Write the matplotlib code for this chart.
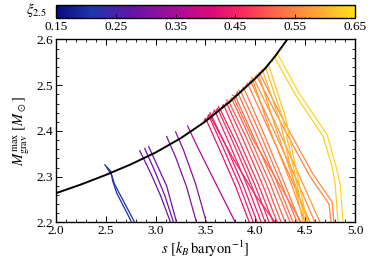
import numpy as np
import matplotlib
matplotlib.use("Agg")
import matplotlib.pyplot as plt
from matplotlib.colors import LinearSegmentedColormap, Normalize
from matplotlib.cm import ScalarMappable
from matplotlib.ticker import MultipleLocator

# black curve (max gravitational mass vs entropy)
curve_s = [2.0, 2.25, 2.5, 2.75, 3.0, 3.25, 3.5, 3.75, 4.0, 4.1, 4.2, 4.32]
curve_m = [2.264, 2.283, 2.304, 2.327, 2.353, 2.384, 2.421, 2.465, 2.515, 2.537, 2.564, 2.60]

# individual tracks, colored by xi_2.5
track_xi = [0.200, 0.205,
            0.28, 0.285, 0.29, 0.31, 0.32, 0.36,
            0.43, 0.44, 0.44, 0.45, 0.46, 0.46, 0.47, 0.48, 0.45,
            0.50, 0.51, 0.52, 0.52, 0.53, 0.54, 0.55, 0.56, 0.57, 0.55, 0.56,
            0.57, 0.58, 0.53,
            0.60, 0.61, 0.62,
            0.63, 0.64]
track_s = [
    [2.49, 2.55, 2.57, 2.61, 2.70, 2.76],
    [2.51, 2.56, 2.585, 2.64, 2.73, 2.79],
    [2.84, 2.95, 3.05, 3.15],
    [2.89, 2.99, 3.09, 3.18],
    [2.93, 2.99, 3.11, 3.21],
    [3.11, 3.20, 3.31, 3.41],
    [3.20, 3.28, 3.40, 3.51],
    [3.32, 3.42, 3.62, 3.80],
    [3.48, 3.50, 3.62, 3.80, 3.94],
    [3.51, 3.53, 3.66, 3.84, 3.98],
    [3.545, 3.56, 3.70, 3.88, 4.02],
    [3.57, 3.59, 3.74, 3.92, 4.06],
    [3.60, 3.62, 3.77, 3.96, 4.10],
    [3.63, 3.65, 3.81, 3.99, 4.14],
    [3.66, 3.68, 3.84, 4.03, 4.18],
    [3.69, 3.71, 3.88, 4.07, 4.22],
    [3.52, 3.54, 3.75, 4.00, 4.20],
    [3.71, 3.74, 3.90, 4.10, 4.26],
    [3.74, 3.76, 3.93, 4.14, 4.30],
    [3.77, 3.80, 3.97, 4.18, 4.35],
    [3.80, 3.82, 4.00, 4.21, 4.38],
    [3.83, 3.86, 4.04, 4.25, 4.42],
    [3.86, 3.88, 4.07, 4.28, 4.45],
    [3.90, 3.92, 4.12, 4.36, 4.55],
    [3.93, 3.95, 4.16, 4.41, 4.60],
    [3.96, 3.99, 4.20, 4.45, 4.65],
    [3.99, 4.01, 4.25, 4.55, 4.74, 4.76],
    [4.02, 4.04, 4.28, 4.58, 4.77, 4.79],
    [3.94, 3.97, 4.15, 4.35, 4.50],
    [4.00, 4.03, 4.20, 4.38, 4.53],
    [3.76, 3.78, 3.98, 4.25, 4.46],
    [4.05, 4.07, 4.25, 4.48],
    [4.08, 4.10, 4.28, 4.50],
    [4.11, 4.13, 4.30, 4.52],
    [4.17, 4.19, 4.40, 4.68, 4.77, 4.80, 4.83],
    [4.20, 4.22, 4.44, 4.72, 4.81, 4.85, 4.88],
]
track_m = [
    [2.326, 2.312, 2.290, 2.264, 2.226, 2.200],
    [2.320, 2.303, 2.285, 2.262, 2.225, 2.200],
    [2.357, 2.308, 2.258, 2.200],
    [2.362, 2.313, 2.260, 2.200],
    [2.366, 2.337, 2.280, 2.200],
    [2.388, 2.343, 2.278, 2.200],
    [2.398, 2.358, 2.285, 2.200],
    [2.411, 2.365, 2.278, 2.200],
    [2.418, 2.428, 2.370, 2.280, 2.200],
    [2.423, 2.435, 2.372, 2.282, 2.200],
    [2.440, 2.433, 2.370, 2.280, 2.200],
    [2.436, 2.446, 2.372, 2.280, 2.200],
    [2.440, 2.450, 2.378, 2.282, 2.200],
    [2.453, 2.446, 2.374, 2.285, 2.200],
    [2.451, 2.458, 2.378, 2.283, 2.200],
    [2.455, 2.462, 2.380, 2.284, 2.200],
    [2.426, 2.436, 2.350, 2.260, 2.200],
    [2.468, 2.462, 2.390, 2.290, 2.200],
    [2.463, 2.472, 2.392, 2.290, 2.200],
    [2.478, 2.476, 2.393, 2.290, 2.200],
    [2.475, 2.486, 2.398, 2.292, 2.200],
    [2.489, 2.484, 2.398, 2.290, 2.200],
    [2.487, 2.496, 2.402, 2.292, 2.200],
    [2.495, 2.505, 2.410, 2.295, 2.200],
    [2.501, 2.510, 2.413, 2.295, 2.200],
    [2.517, 2.512, 2.418, 2.298, 2.200],
    [2.513, 2.522, 2.420, 2.300, 2.240, 2.200],
    [2.519, 2.528, 2.424, 2.305, 2.245, 2.200],
    [2.504, 2.514, 2.400, 2.290, 2.200],
    [2.515, 2.525, 2.410, 2.295, 2.200],
    [2.466, 2.474, 2.380, 2.280, 2.200],
    [2.526, 2.535, 2.420, 2.200],
    [2.532, 2.540, 2.425, 2.200],
    [2.538, 2.546, 2.432, 2.200],
    [2.552, 2.562, 2.480, 2.388, 2.322, 2.286, 2.200],
    [2.560, 2.570, 2.482, 2.392, 2.322, 2.285, 2.200],
]

cbar_ticks = [0.15, 0.25, 0.35, 0.45, 0.55, 0.65]

plt.rcParams['font.family'] = ['Liberation Serif', 'DejaVu Serif']
plt.rcParams['mathtext.fontset'] = 'stix'

cmap = LinearSegmentedColormap.from_list("xi", [
    (0.00, "#0a0a7e"), (0.12, "#1f36ae"), (0.25, "#6414aa"), (0.40, "#a80c9a"),
    (0.52, "#dc0a7a"), (0.62, "#f8285e"), (0.74, "#ff6a48"), (0.86, "#ff9e34"),
    (1.00, "#ffe01e")])
norm = Normalize(0.15, 0.65)

fig = plt.figure(figsize=(3.74, 2.62), dpi=100)
ax = fig.add_axes([0.1497, 0.1508, 0.7995, 0.6985])

for xi, s, m in zip(track_xi, track_s, track_m):
    ax.plot(s, m, color=cmap(norm(xi)), lw=0.9, zorder=2)
ax.plot(curve_s, curve_m, color="black", lw=1.4, zorder=3)

ax.set_xlim(2.0, 5.0)
ax.set_ylim(2.2, 2.6)
ax.xaxis.set_major_locator(MultipleLocator(0.5))
ax.xaxis.set_minor_locator(MultipleLocator(0.1))
ax.yaxis.set_major_locator(MultipleLocator(0.1))
ax.yaxis.set_minor_locator(MultipleLocator(0.02))
ax.tick_params(which="both", direction="in", top=True, right=True, labelsize=9.5, pad=2)
ax.tick_params(which="major", length=4, width=0.7)
ax.tick_params(which="minor", length=2, width=0.6)
for sp in ax.spines.values():
    sp.set_linewidth(1.0)
ax.set_xlabel(r"$s\ [k_B\,\mathrm{baryon}^{-1}]$", fontsize=10.5, labelpad=1)
ax.set_ylabel(r"$M_{\rm grav}^{\rm max}\ [M_\odot]$", fontsize=10.5, labelpad=3)

cax = fig.add_axes([0.1497, 0.930, 0.7995, 0.0508])
cb = fig.colorbar(ScalarMappable(norm=norm, cmap=cmap), cax=cax, orientation="horizontal", ticks=cbar_ticks)
cb.ax.tick_params(direction="in", length=3, width=0.6, labelsize=9.5, pad=2)
cb.ax.set_xticklabels([f"{t:.2f}" for t in cbar_ticks])
cb.outline.set_linewidth(1.0)
fig.text(0.125, 0.928, r"$\xi_{2.5}$", fontsize=10.5, ha="right", va="bottom")

fig.savefig("out.png", dpi=100)
